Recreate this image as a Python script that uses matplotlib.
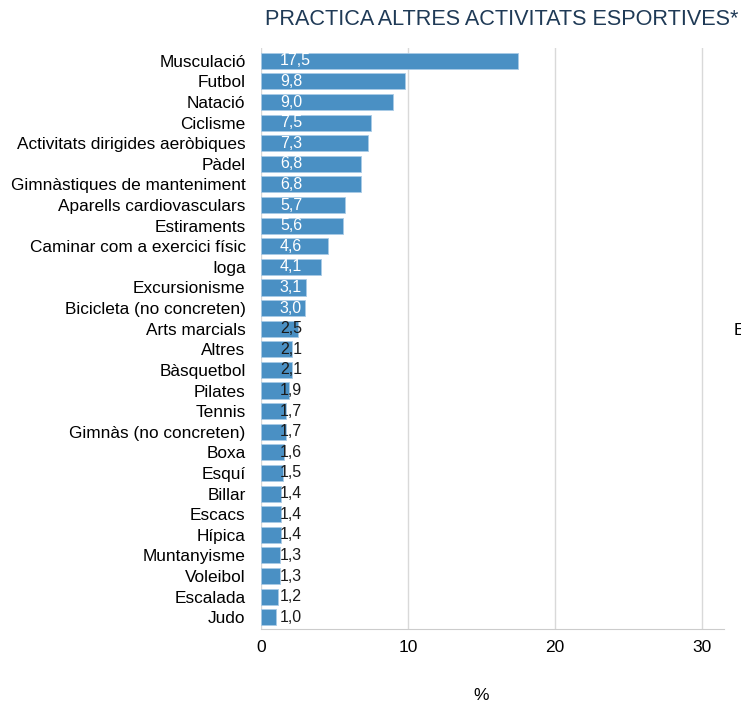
import matplotlib
matplotlib.use('Agg')
import matplotlib.pyplot as plt

plt.rcParams['font.family'] = ['Liberation Sans', 'DejaVu Sans']

# ── data ────────────────────────────────────────────────
activitats = [
    'Musculació', 'Futbol', 'Natació', 'Ciclisme', 'Activitats dirigides aeròbiques',
    'Pàdel', 'Gimnàstiques de manteniment', 'Aparells cardiovasculars', 'Estiraments',
    'Caminar com a exercici físic', 'Ioga', 'Excursionisme', 'Bicicleta (no concreten)',
    'Arts marcials', 'Altres', 'Bàsquetbol', 'Pilates', 'Tennis', 'Gimnàs (no concreten)',
    'Boxa', 'Esquí', 'Billar', 'Escacs', 'Hípica', 'Muntanyisme', 'Voleibol',
    'Escalada', 'Judo',
]
pct = [17.5, 9.8, 9.0, 7.5, 7.3, 6.8, 6.8, 5.7, 5.6, 4.6, 4.1, 3.1, 3.0,
       2.5, 2.1, 2.1, 1.9, 1.7, 1.7, 1.6, 1.5, 1.4, 1.4, 1.4, 1.3, 1.3, 1.2, 1.0]
xticks = [0, 10, 20, 30]

BAR = '#4a90c4'
GRID = '#d9d9d9'

fig = plt.figure(figsize=(7.41, 7.03), dpi=100)
ax = fig.add_axes([0.352, 0.105, 0.625, 0.827])

y = list(range(len(activitats)))
ax.barh(y, pct, height=0.78, color=BAR, edgecolor='#a9cbe6', linewidth=0.6, zorder=2)

# value labels sit at a fixed x: white on the long bars, dark on the short ones
for i, v in enumerate(pct):
    col = 'white' if v >= 3 else '#1a1a1a'
    ax.text(1.3, i, f'{v:.1f}'.replace('.', ','), ha='left', va='center',
            fontsize=11.5, color=col, zorder=3)

ax.set_ylim(len(activitats) - 0.42, -0.63)
ax.set_xlim(0, 31.5)
ax.set_yticks(y)
ax.set_yticklabels(activitats, fontsize=12.4)
ax.set_xticks(xticks)
ax.set_xticklabels([str(t) for t in xticks], fontsize=12.5)
ax.tick_params(axis='both', length=0, pad=8)
ax.tick_params(axis='y', pad=11)
ax.grid(axis='x', color=GRID, linewidth=1, zorder=0)

for s in ['top', 'right', 'left']:
    ax.spines[s].set_visible(False)
ax.spines['bottom'].set_color('#cccccc')

fig.text(0.996, 0.972, 'PRACTICA ALTRES ACTIVITATS ESPORTIVES*', ha='right', va='center',
         fontsize=15.6, color='#1f3a56')
fig.text(0.649, 0.0, '%', ha='center', va='bottom', fontsize=12.5)
fig.text(0.990, 0.530, 'E', ha='left', va='center', fontsize=12.5)

fig.savefig('out.png', dpi=100)
